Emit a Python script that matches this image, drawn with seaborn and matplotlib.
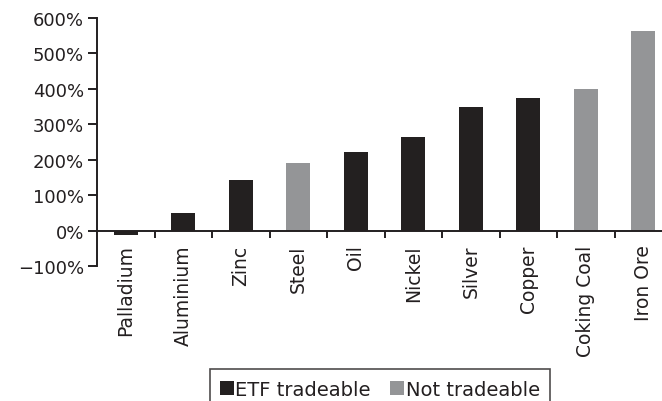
import matplotlib
matplotlib.use("Agg")
import matplotlib.pyplot as plt
from matplotlib.ticker import FixedLocator, PercentFormatter
import seaborn as sns
import pandas as pd

# Price change by commodity
commodities = ["Palladium", "Aluminium", "Zinc", "Steel", "Oil",
               "Nickel", "Silver", "Copper", "Coking Coal", "Iron Ore"]
change_pct = [-13, 51, 142, 192, 223, 265, 350, 373, 401, 562]
status = ["ETF tradeable", "ETF tradeable", "ETF tradeable", "Not tradeable",
          "ETF tradeable", "ETF tradeable", "ETF tradeable", "ETF tradeable",
          "Not tradeable", "Not tradeable"]
status_order = ["ETF tradeable", "Not tradeable"]
status_colors = {"ETF tradeable": "#231f20", "Not tradeable": "#939598"}
y_ticks = [-100, 0, 100, 200, 300, 400, 500, 600]

df = pd.DataFrame({"commodity": commodities, "change": change_pct, "status": status})

sns.set_style("white")
plt.rcParams["font.family"] = ["DejaVu Sans"]

fig = plt.figure(figsize=(6.62, 4.02), dpi=100)
ax = fig.add_axes([97 / 662, 1 - 267 / 402, 575 / 662, 248 / 402])

sns.barplot(data=df, x="commodity", y="change", hue="status",
            hue_order=status_order, palette=status_colors, dodge=False,
            width=0.42, order=commodities, ax=ax, legend=True, linewidth=0)

ax.set_xlim(-0.5, 9.5)
ax.set_ylim(-100, 600)
ax.set_xlabel("")
ax.set_ylabel("")

ink = "#231f20"
for side in ("top", "right"):
    ax.spines[side].set_visible(False)
ax.spines["left"].set_color(ink)
ax.spines["left"].set_linewidth(1.4)
ax.spines["bottom"].set_position(("data", 0))
ax.spines["bottom"].set_color(ink)
ax.spines["bottom"].set_linewidth(1.4)

ax.yaxis.set_major_locator(FixedLocator(y_ticks))
ax.yaxis.set_major_formatter(PercentFormatter(decimals=0))
ax.tick_params(axis="y", which="major", direction="out", length=6.5, width=1.4,
               color=ink, labelsize=13, labelcolor=ink, pad=3, left=True)

ax.set_xticks(range(len(commodities)))
ax.set_xticklabels(commodities, rotation=90)
ax.set_xticks([i + 0.5 for i in range(len(commodities) - 1)], minor=True)
ax.tick_params(axis="x", which="major", length=0, labelsize=13.5,
               labelcolor=ink, pad=10)
ax.tick_params(axis="x", which="minor", direction="out", length=5,
               width=1.4, color=ink, bottom=True)

handles, labels = ax.get_legend_handles_labels()
ax.get_legend().remove()
leg = fig.legend(handles, labels, loc="upper center", ncol=2,
                 bbox_to_anchor=(380 / 662, 1 - 370 / 402),
                 frameon=True, fancybox=False, edgecolor=ink,
                 fontsize=14, handlelength=0.68, handleheight=0.7,
                 handletextpad=0.1, columnspacing=1.0, borderpad=0.55,
                 borderaxespad=0)
leg.get_frame().set_linewidth(1.2)
for t in leg.get_texts():
    t.set_color(ink)

fig.savefig("out.png", dpi=100)
